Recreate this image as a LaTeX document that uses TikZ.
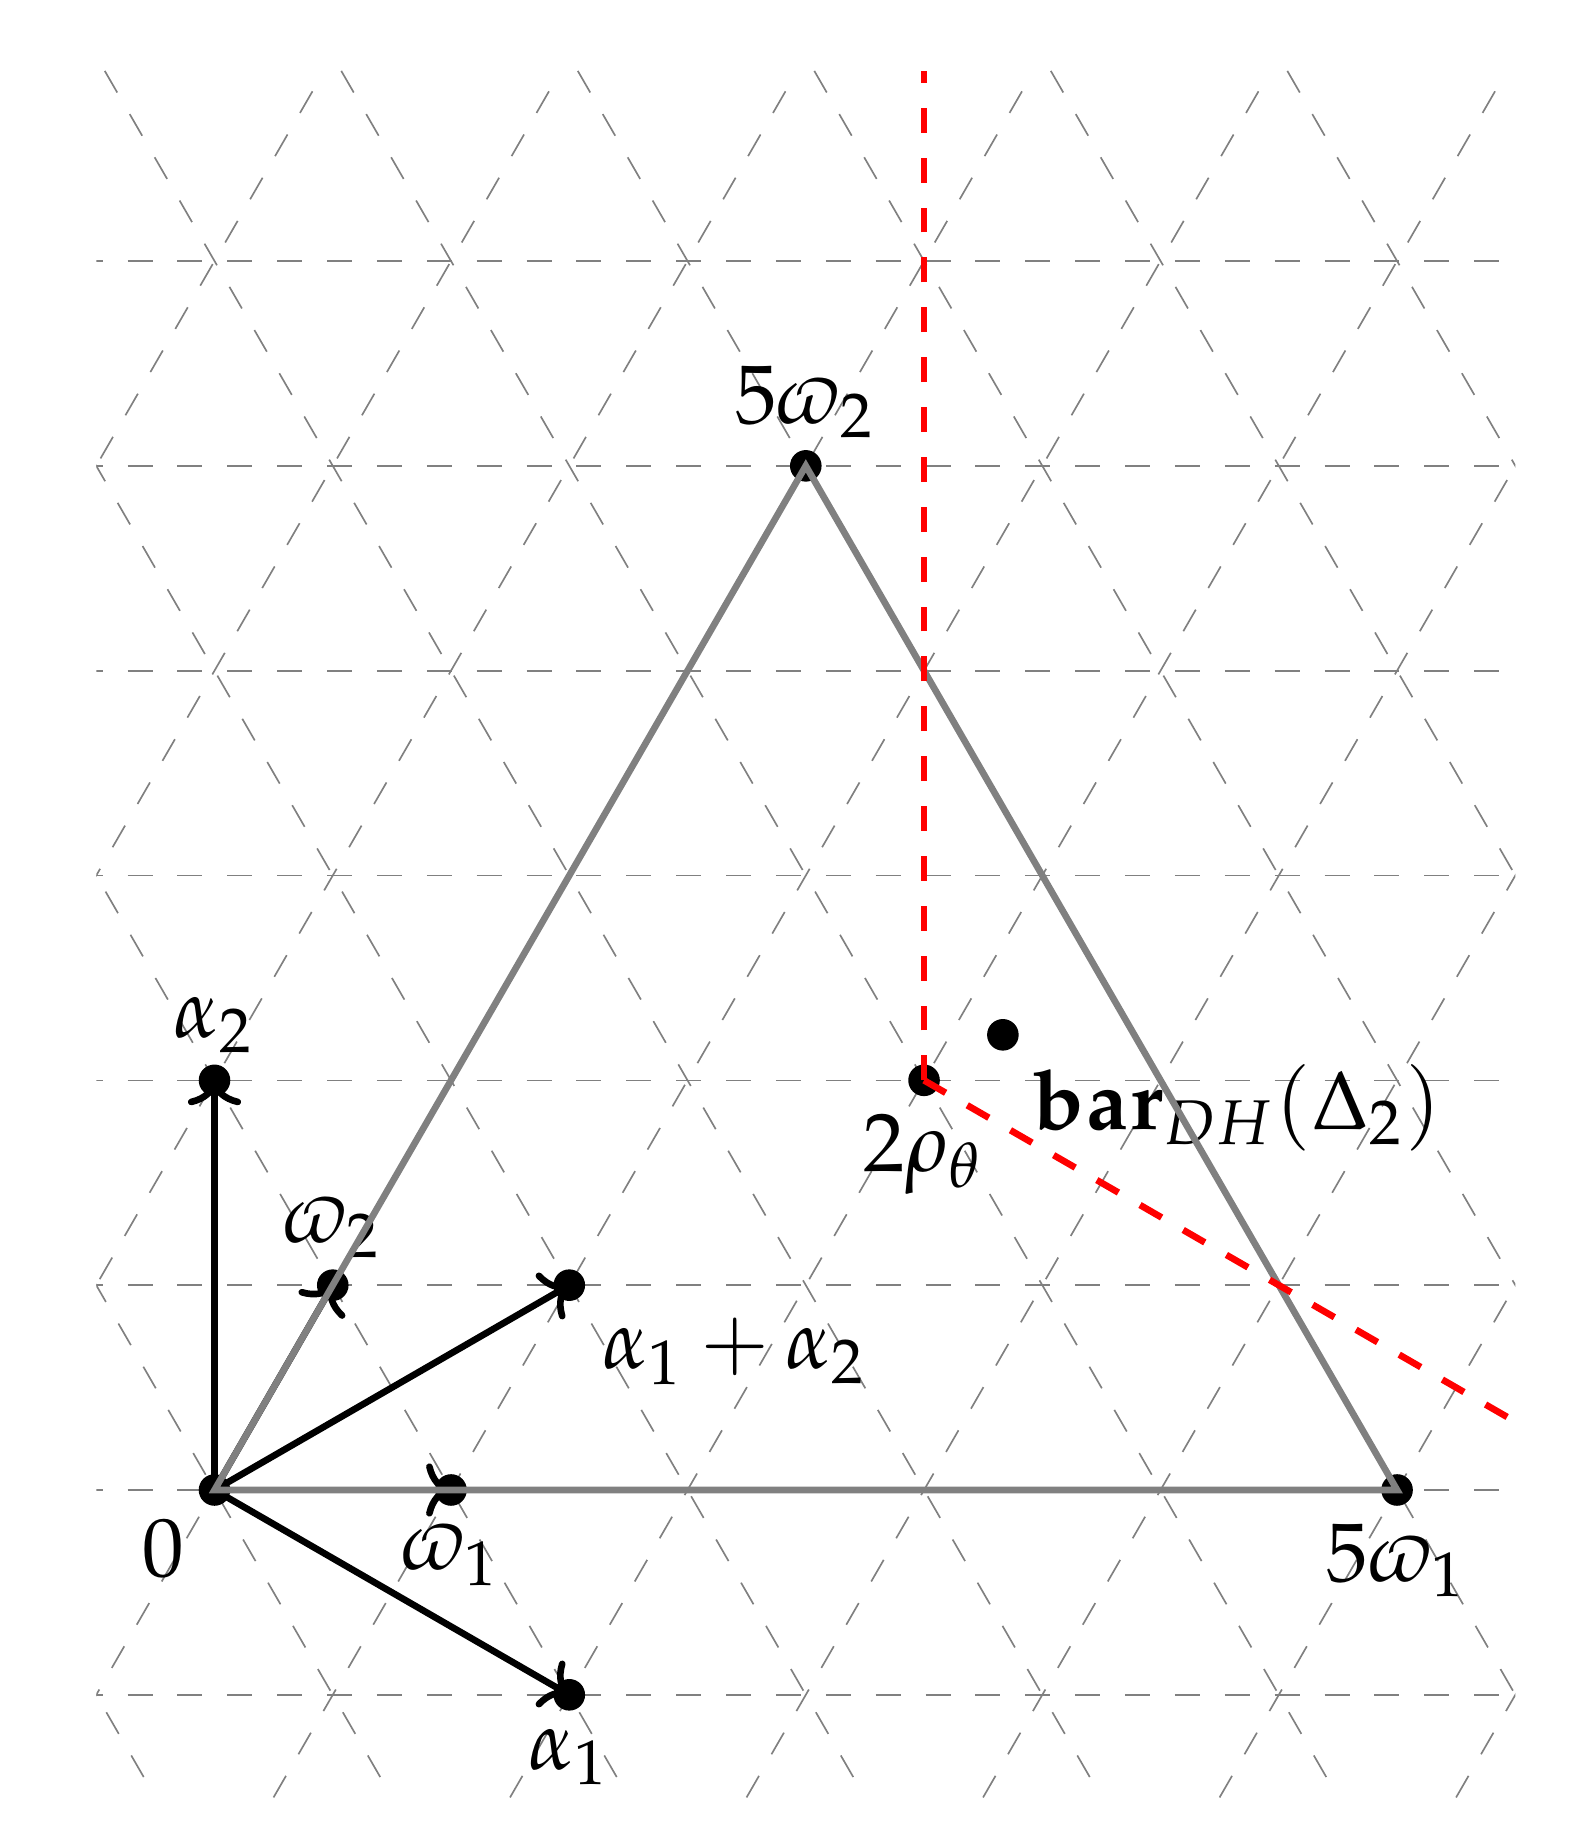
\documentclass[tikz,border=0pt]{standalone}
\usepackage{mathpazo}
\usetikzlibrary{arrows.meta}
\begin{document}
\begin{tikzpicture}[
  gridline/.style={gray, very thin, dashed},
  vec/.style={thick, -{To[length=3pt,width=6.4pt]}},
  dotnode/.style={circle, fill=black, inner sep=0pt, minimum size=3.8pt},
  tri/.style={gray, thick},
  redline/.style={red, thick, dashed},
  label distance=-1.5pt,
]
\useasboundingbox (-0.907,-1.463) rectangle (5.841,6.300);
\begin{scope}
  \clip (-0.5,-1.3) rectangle (5.5,6);
  \foreach \k in {-1,...,6}
    \draw[gridline] (-1,{\k*0.8660254}) -- (6,{\k*0.8660254});
  \foreach \n in {-4,...,7}
    \draw[gridline] ({\n-1.3/sqrt(3)},-1.3) -- ({\n+6/sqrt(3)},6);
  \foreach \n in {-1,...,9}
    \draw[gridline] ({\n-6/sqrt(3)},6) -- ({\n+1.3/sqrt(3)},-1.3);
\end{scope}

\node[dotnode, label={[label distance=-2pt]below left:$0$}] (O) at (0,0) {};
\node[dotnode, label={below:$\varpi_1$}] (w1) at (1,0) {};
\node[dotnode, label={[label distance=-2.3pt]above:$\varpi_2$}] (w2) at (0.5,0.8660254) {};
\node[dotnode, label={below:$\alpha_1$}] (a1) at (1.5,-0.8660254) {};
\node[dotnode, label={[label distance=-2.3pt]above:$\alpha_2$}] (a2) at (0,1.7320508) {};
\node[dotnode, label={below right:$\alpha_1+\alpha_2$}] (a12) at (1.5,0.8660254) {};
\node[dotnode, label={below:$5\varpi_1$}] (W1) at (5,0) {};
\node[dotnode, label={[label distance=-2.3pt]above:$5\varpi_2$}] (W2) at (2.5,4.3301270) {};
\node[dotnode, label={below:$2\rho_\theta$}] (rho) at (3,1.7320508) {};
\node[dotnode, label={[label distance=-2pt]below right:$\mathbf{bar}_{DH}(\Delta_2)$}] (bar) at (3.3333333,1.9245009) {};

\draw[vec] (O.center) -- (a1.center);
\draw[vec] (O.center) -- (a2.center);
\draw[vec] (O.center) -- (a12.center);
\draw[vec] (O.center) -- (w1.center);
\draw[vec] (O.center) -- (w2.center);

\draw[tri] (O.center) -- (W1.center) -- (W2.center) -- cycle;

\coordinate (rtop) at (3,6);
\coordinate (rend) at (5.5,0.2886751);
\draw[redline] (rho.center) -- (rtop);
\draw[redline] (rho.center) -- (rend);
\end{tikzpicture}
\end{document}
